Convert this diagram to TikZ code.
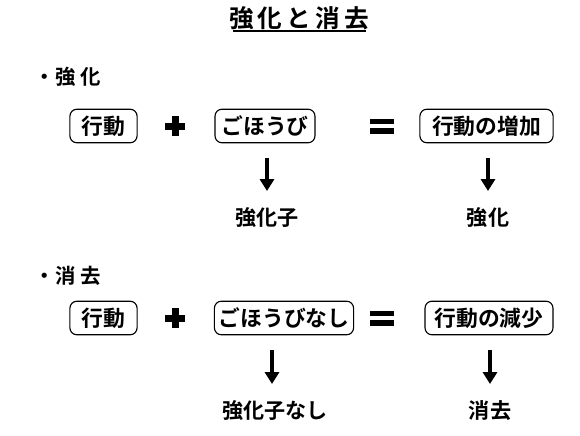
\documentclass[tikz,border=0pt]{standalone}
\usepackage{fontspec}
\setmainfont{Noto Sans CJK JP Bold}
\usetikzlibrary{arrows.meta}

\tikzset{
  kbox/.style={draw,thick,rounded corners=5pt,minimum height=0.84cm,inner xsep=3pt,font=\fontsize{15.5}{18}\selectfont},
  klabel/.style={font=\fontsize{15}{18}\selectfont},
  khead/.style={font=\fontsize{14.5}{17}\selectfont,anchor=west},
  karrow/.style={line width=2.6pt,-{Triangle[length=8.5pt,width=10pt]}}
}
\newcommand{\kplus}[1]{\fill #1 ++(-10,-3.5) rectangle ++(20,7); \fill #1 ++(-3.5,-10) rectangle ++(7,20);}
\newcommand{\kequal}[1]{\fill #1 ++(-12,-7.5) rectangle ++(24,5.5); \fill #1 ++(-12,2) rectangle ++(24,5.5);}

\begin{document}
\begin{tikzpicture}[x=0.025cm,y=-0.025cm]
\useasboundingbox (0,0) rectangle (580,435);
% title
\node[font=\fontsize{17.5}{20}\selectfont] (title) at (299,18) {強\,化\,と\,消\,去};
\draw[thick] (233,31) -- (366,31);
% reinforcement
\node[khead] (headA) at (30,77) {・強 化};
\node[kbox,minimum width=1.68cm] (actA) at (103.5,126) {行動};
\kplus{(175,126)}
\node[kbox,minimum width=2.5cm] (rewA) at (265,126) {ごほうび};
\kequal{(382,126)}
\node[kbox,minimum width=3.33cm] (resA) at (486.5,126) {行動の増加};
\node[klabel] (subA) at (267,218) {強化子};
\node[klabel] (endA) at (488,218) {強化};
\draw[karrow] (267,158) -- (267,191);
\draw[karrow] (488,158) -- (488,191);
% extinction
\node[khead] (headB) at (30,276) {・消 去};
\node[kbox,minimum width=1.68cm] (actB) at (103.5,318) {行動};
\kplus{(175,318)}
\node[kbox,minimum width=3.45cm] (rewB) at (284,318) {ごほうびなし};
\kequal{(382,318)}
\node[kbox,minimum width=3.2cm] (resB) at (489,318) {行動の減少};
\node[klabel] (subB) at (275,411) {強化子なし};
\node[klabel] (endB) at (490,411) {消去};
\draw[karrow] (272,350) -- (272,384);
\draw[karrow] (490,350) -- (490,384);
\end{tikzpicture}
\end{document}
